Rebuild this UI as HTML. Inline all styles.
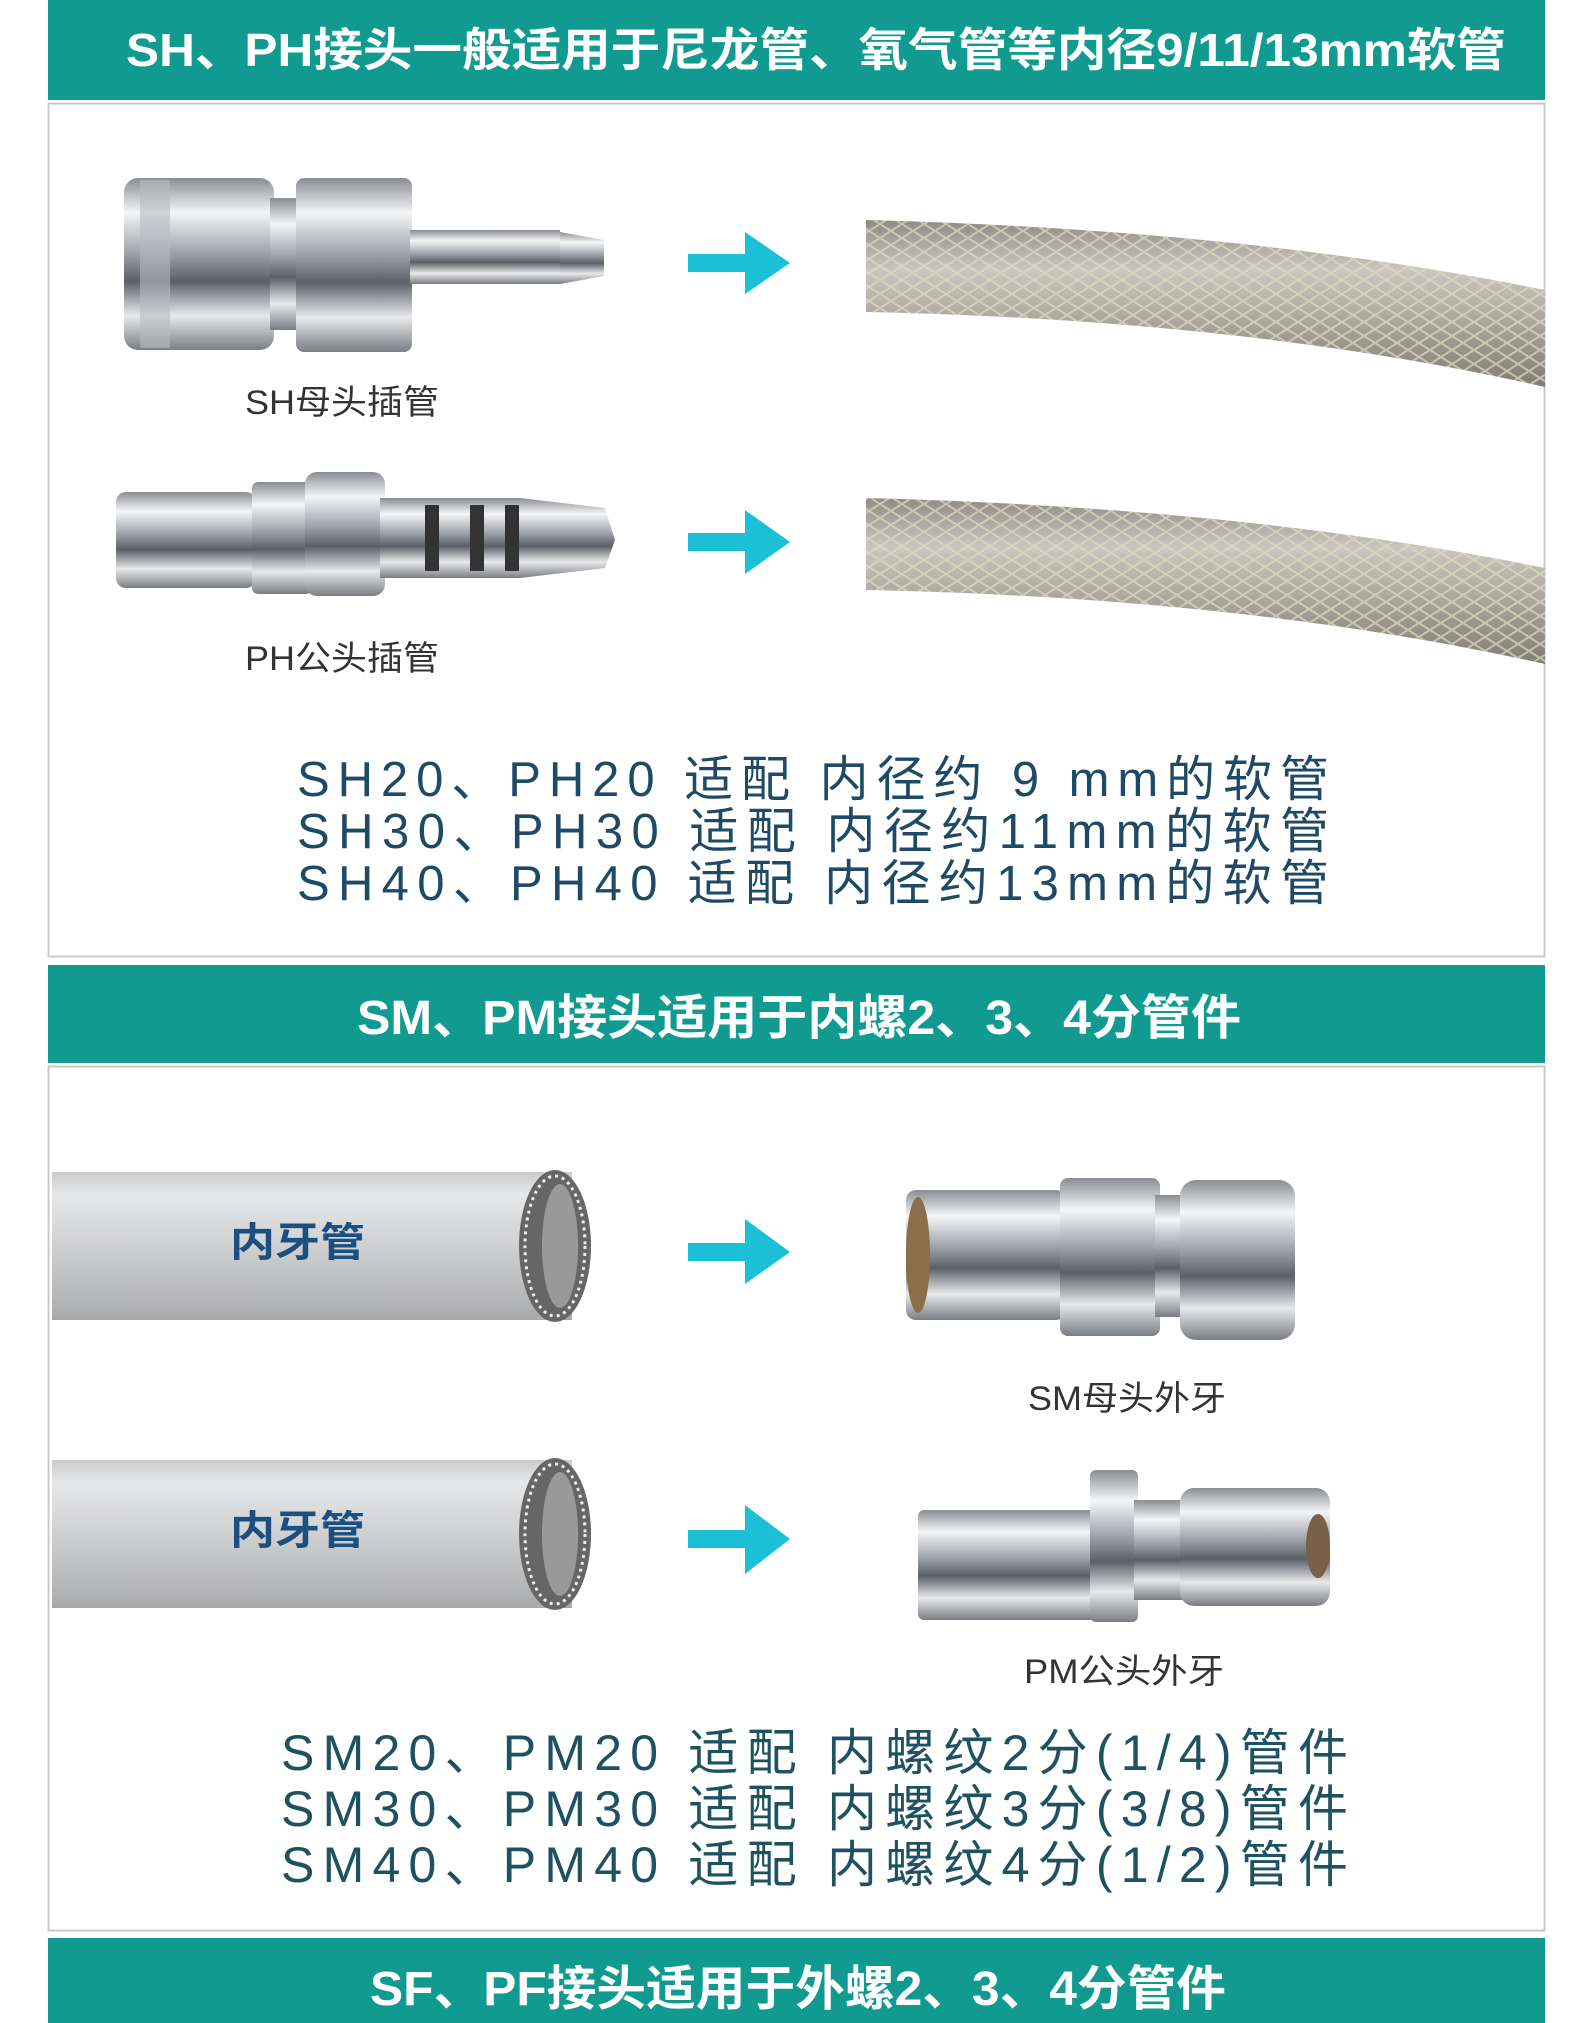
<!DOCTYPE html>
<html><head><meta charset="utf-8"><style>
html,body{margin:0;padding:0;background:#fff;width:1581px;height:2023px;overflow:hidden}
svg{display:block}
text{font-family:"Liberation Sans","Noto Sans CJK SC",sans-serif}
</style></head><body>
<svg width="1581" height="2023" viewBox="0 0 1581 2023" xmlns="http://www.w3.org/2000/svg">
<defs>
<linearGradient id="metal" x1="0" y1="0" x2="0" y2="1">
<stop offset="0" stop-color="#8a8d92"/><stop offset="0.2" stop-color="#f4f5f6"/><stop offset="0.45" stop-color="#9a9ea4"/><stop offset="0.6" stop-color="#5b5f66"/><stop offset="0.8" stop-color="#e8e9ea"/><stop offset="1" stop-color="#7a7d82"/>
</linearGradient>
<linearGradient id="pipe" x1="0" y1="0" x2="0" y2="1">
<stop offset="0" stop-color="#c9cacc"/><stop offset="0.15" stop-color="#e6e7e8"/><stop offset="0.5" stop-color="#cfd0d2"/><stop offset="0.85" stop-color="#b6b7b9"/><stop offset="1" stop-color="#a7a8aa"/>
</linearGradient>
<linearGradient id="hose" x1="0" y1="0" x2="0" y2="1">
<stop offset="0" stop-color="#8e8c84"/><stop offset="0.3" stop-color="#c9c7bf"/><stop offset="0.6" stop-color="#aaa89e"/><stop offset="1" stop-color="#7f7d74"/>
</linearGradient>
<pattern id="mesh" width="22" height="14" patternUnits="userSpaceOnUse">
<path d="M0 0L22 14M0 14L22 0" stroke="#e0dcc4" stroke-width="2" opacity="0.7"/>
</pattern>
</defs>

<rect x="48" y="0" width="1497" height="100" fill="#119a8f"/>
<text x="126" y="66" font-size="46" font-weight="bold" fill="#fff" textLength="1380" lengthAdjust="spacingAndGlyphs">SH、PH接头一般适用于尼龙管、氧气管等内径9/11/13mm软管</text>
<rect x="48.5" y="103.5" width="1496" height="853" fill="#fff" stroke="#c8c8c8" stroke-width="2"/>
<rect x="48" y="965" width="1497" height="98" fill="#119a8f"/>
<text x="357" y="1034" font-size="48" font-weight="bold" fill="#fff" textLength="884" lengthAdjust="spacingAndGlyphs">SM、PM接头适用于内螺2、3、4分管件</text>
<rect x="48.5" y="1066.5" width="1496" height="864" fill="#fff" stroke="#c8c8c8" stroke-width="2"/>
<rect x="48" y="1938" width="1497" height="85" fill="#119a8f"/>
<text x="370" y="2005" font-size="48" font-weight="bold" fill="#fff" textLength="856" lengthAdjust="spacingAndGlyphs">SF、PF接头适用于外螺2、3、4分管件</text>

<g>
<rect x="124" y="178" width="150" height="172" rx="14" fill="url(#metal)"/>
<rect x="140" y="180" width="30" height="168" fill="#b8bbbf" opacity="0.6"/>
<rect x="270" y="198" width="30" height="132" fill="url(#metal)"/>
<rect x="296" y="178" width="116" height="174" rx="8" fill="url(#metal)"/>
<rect x="410" y="230" width="150" height="54" fill="url(#metal)"/>
<polygon points="560,232 604,240 604,276 560,284" fill="url(#metal)"/>
</g>
<text x="245" y="414" font-size="34" fill="#333" textLength="194" lengthAdjust="spacingAndGlyphs">SH母头插管</text>

<g>
<rect x="116" y="492" width="140" height="96" rx="10" fill="url(#metal)"/>
<rect x="252" y="482" width="60" height="112" rx="6" fill="url(#metal)"/>
<rect x="305" y="472" width="80" height="124" rx="12" fill="url(#metal)"/>
<rect x="380" y="498" width="140" height="80" fill="url(#metal)"/>
<rect x="425" y="505" width="14" height="66" fill="#333"/>
<rect x="470" y="505" width="14" height="66" fill="#333"/>
<rect x="505" y="505" width="14" height="66" fill="#333"/>
<polygon points="520,498 605,508 615,540 605,568 520,578" fill="url(#metal)"/>
</g>
<text x="245" y="670" font-size="34" fill="#333" textLength="194" lengthAdjust="spacingAndGlyphs">PH公头插管</text>

<g fill="#1cc0d6">
<rect x="688" y="254" width="60" height="18"/><polygon points="745,232 790,263 745,294"/>
<rect x="688" y="533" width="60" height="18"/><polygon points="745,510 790,542 745,574"/>
<rect x="688" y="1243" width="60" height="18"/><polygon points="745,1219 790,1252 745,1284"/>
<rect x="688" y="1530" width="60" height="18"/><polygon points="745,1505 790,1539 745,1574"/>
</g>

<g>
<path d="M866 220 Q1250 230 1545 290 L1545 387 Q1250 320 866 312 Z" fill="url(#hose)"/>
<path d="M866 220 Q1250 230 1545 290 L1545 387 Q1250 320 866 312 Z" fill="url(#mesh)"/>
<path d="M866 498 Q1250 508 1545 568 L1545 664 Q1250 598 866 590 Z" fill="url(#hose)"/>
<path d="M866 498 Q1250 508 1545 568 L1545 664 Q1250 598 866 590 Z" fill="url(#mesh)"/>
</g>

<g font-size="49" fill="#1f4a66">
<text x="297" y="796" textLength="1032" lengthAdjust="spacing">SH20、PH20 适配 内径约 9 mm的软管</text>
<text x="297" y="848" textLength="1032" lengthAdjust="spacing">SH30、PH30 适配 内径约11mm的软管</text>
<text x="297" y="900" textLength="1032" lengthAdjust="spacing">SH40、PH40 适配 内径约13mm的软管</text>
</g>

<g>
<rect x="52" y="1172" width="520" height="148" fill="url(#pipe)"/>
<ellipse cx="555" cy="1246" rx="36" ry="76" fill="#666"/>
<ellipse cx="555" cy="1246" rx="30" ry="70" fill="none" stroke="#eee" stroke-width="3" stroke-dasharray="3 4"/>
<ellipse cx="560" cy="1246" rx="18" ry="62" fill="#999"/>
<text x="230" y="1256" font-size="40" font-weight="bold" fill="#1c4f80" textLength="135" lengthAdjust="spacingAndGlyphs">内牙管</text>
<rect x="52" y="1460" width="520" height="148" fill="url(#pipe)"/>
<ellipse cx="555" cy="1534" rx="36" ry="76" fill="#666"/>
<ellipse cx="555" cy="1534" rx="30" ry="70" fill="none" stroke="#eee" stroke-width="3" stroke-dasharray="3 4"/>
<ellipse cx="560" cy="1534" rx="18" ry="62" fill="#999"/>
<text x="230" y="1544" font-size="40" font-weight="bold" fill="#1c4f80" textLength="135" lengthAdjust="spacingAndGlyphs">内牙管</text>
</g>

<g>
<rect x="906" y="1190" width="160" height="130" rx="10" fill="url(#metal)"/>
<ellipse cx="918" cy="1255" rx="12" ry="58" fill="#8a6f4a"/>
<rect x="1060" y="1178" width="100" height="158" rx="8" fill="url(#metal)"/>
<rect x="1155" y="1195" width="30" height="122" fill="url(#metal)"/>
<rect x="1180" y="1180" width="115" height="160" rx="16" fill="url(#metal)"/>
</g>
<text x="1028" y="1410" font-size="34" fill="#333" textLength="198" lengthAdjust="spacingAndGlyphs">SM母头外牙</text>

<g>
<rect x="918" y="1510" width="180" height="110" rx="6" fill="url(#metal)"/>
<rect x="1090" y="1470" width="48" height="152" rx="6" fill="url(#metal)"/>
<rect x="1134" y="1500" width="50" height="100" fill="url(#metal)"/>
<rect x="1180" y="1488" width="150" height="118" rx="14" fill="url(#metal)"/>
<ellipse cx="1318" cy="1546" rx="12" ry="32" fill="#7a6048"/>
</g>
<text x="1024" y="1683" font-size="34" fill="#333" textLength="200" lengthAdjust="spacingAndGlyphs">PM公头外牙</text>

<g font-size="50" fill="#1f5260">
<text x="281" y="1770" textLength="1067" lengthAdjust="spacing">SM20、PM20 适配 内螺纹2分(1/4)管件</text>
<text x="281" y="1826" textLength="1067" lengthAdjust="spacing">SM30、PM30 适配 内螺纹3分(3/8)管件</text>
<text x="281" y="1882" textLength="1067" lengthAdjust="spacing">SM40、PM40 适配 内螺纹4分(1/2)管件</text>
</g>
</svg>
</body></html>
